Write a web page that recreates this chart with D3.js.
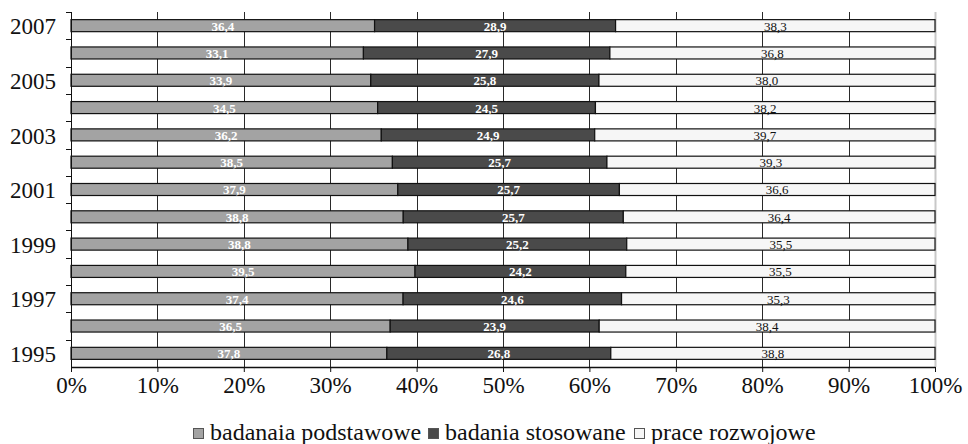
<!DOCTYPE html>
<html>
<head>
<meta charset="utf-8">
<script src="https://cdn.jsdelivr.net/npm/d3@7"></script>
<style>
  html, body { margin: 0; padding: 0; background: #fff; }
  svg { display: block; }
  svg text { font-family: "Liberation Serif", serif; }
</style>
</head>
<body>
<svg id="chart" width="968" height="444"></svg>
<script>
// Research spending structure by type of work, 1995–2007
const years = [2007, 2006, 2005, 2004, 2003, 2002, 2001, 2000, 1999, 1998, 1997, 1996, 1995];
const basic = [36.4, 33.1, 33.9, 34.5, 36.2, 38.5, 37.9, 38.8, 38.8, 39.5, 37.4, 36.5, 37.8];
const applied = [28.9, 27.9, 25.8, 24.5, 24.9, 25.7, 25.7, 25.7, 25.2, 24.2, 24.6, 23.9, 26.8];
const development = [38.3, 36.8, 38.0, 38.2, 39.7, 39.3, 36.6, 36.4, 35.5, 35.5, 35.3, 38.4, 38.8];
const seriesNames = ["badanaia podstawowe", "badania stosowane", "prace rozwojowe"];
const yearLabels = [2007, 2005, 2003, 2001, 1999, 1997, 1995];
const xTicks = [0, 0.1, 0.2, 0.3, 0.4, 0.5, 0.6, 0.7, 0.8, 0.9, 1];

const SERIF = "Liberation Serif";
const fills = ["#a3a3a3", "#4a4a4a", "#f6f6f6"];
const labelColors = ["#fff", "#fff", "#111"];

const svg = d3.select("#chart");
const margin = { left: 71, right: 33, top: 12, bottom: 77 };
const W = 968, H = 444;

const x = d3.scaleLinear().domain([0, 1]).range([margin.left, W - margin.right]);
const y = d3.scaleBand().domain(years).range([margin.top, H - margin.bottom]).paddingInner(0.56).paddingOuter(0.28);

// Stack as shares of each year's total
const rows = years.map((yr, i) => {
  const vals = [basic[i], applied[i], development[i]];
  const total = d3.sum(vals);
  let acc = 0;
  return vals.map((v, k) => {
    const seg = { year: yr, k, value: v, x0: acc / total, x1: (acc + v) / total };
    acc += v;
    return seg;
  });
});

// Right border of the plot area
svg.append("line")
  .attr("x1", x(1) + 0.5).attr("x2", x(1) + 0.5)
  .attr("y1", margin.top).attr("y2", H - margin.bottom)
  .attr("stroke", "#c8c8c8").attr("stroke-width", 2);

// Vertical gridlines
svg.append("g").selectAll("line").data(xTicks.slice(1, -1)).join("line")
  .attr("x1", d => Math.round(x(d)) + 0.5).attr("x2", d => Math.round(x(d)) + 0.5)
  .attr("y1", margin.top).attr("y2", H - margin.bottom)
  .attr("stroke", "#2a2a2a").attr("stroke-width", 1);

// Bars
const gBars = svg.append("g");
rows.forEach(row => {
  gBars.selectAll(null).data(row).join("rect")
    .attr("x", d => x(d.x0))
    .attr("y", d => y(d.year))
    .attr("width", d => x(d.x1) - x(d.x0))
    .attr("height", y.bandwidth())
    .attr("fill", d => fills[d.k])
    .attr("stroke", "#111")
    .attr("stroke-width", 1.2);
  gBars.selectAll(null).data(row).join("text")
    .attr("x", d => (x(d.x0) + x(d.x1)) / 2)
    .attr("y", d => y(d.year) + y.bandwidth() / 2)
    .attr("dy", "0.38em")
    .attr("text-anchor", "middle")
    .attr("font-family", SERIF)
    .attr("font-size", 13)
    .attr("font-weight", d => d.k < 2 ? "bold" : "normal")
    .attr("fill", d => labelColors[d.k])
    .text(d => d3.format(".1f")(d.value).replace(".", ","));
});

// Y axis with ticks at band boundaries
const step = y.step();
const yAxisG = svg.append("g");
yAxisG.append("line")
  .attr("x1", margin.left + 0.5).attr("x2", margin.left + 0.5)
  .attr("y1", margin.top).attr("y2", H - margin.bottom)
  .attr("stroke", "#111");
const boundaries = d3.range(years.length).map(i => margin.top + i * step);
yAxisG.selectAll("line.tick").data(boundaries).join("line")
  .attr("class", "tick")
  .attr("x1", margin.left - 5).attr("x2", margin.left)
  .attr("y1", d => Math.round(d) + 0.5).attr("y2", d => Math.round(d) + 0.5)
  .attr("stroke", "#111");
yAxisG.selectAll("text").data(yearLabels).join("text")
  .attr("x", margin.left - 15)
  .attr("y", d => y(d) + y.bandwidth() / 2)
  .attr("dy", "0.38em")
  .attr("text-anchor", "end")
  .attr("font-family", SERIF)
  .attr("font-size", 23)
  .attr("fill", "#111")
  .text(d => d);

// X axis
const xAxis = d3.axisBottom(x).tickValues(xTicks).tickFormat(d3.format(".0%")).tickSize(5).tickSizeOuter(0);
const xg = svg.append("g").attr("transform", `translate(0,${H - margin.bottom})`).call(xAxis);
xg.select(".domain").attr("stroke", "#111").attr("stroke-width", 1.5);
xg.selectAll(".tick line").attr("stroke", "#111");
xg.selectAll(".tick text")
  .attr("font-family", SERIF)
  .attr("font-size", 23)
  .attr("fill", "#111")
  .attr("y", 26)
  .attr("dy", 0);

// Legend
const legendItems = [
  { name: seriesNames[0], fill: fills[0], x: 193 },
  { name: seriesNames[1], fill: fills[1], x: 428 },
  { name: seriesNames[2], fill: fills[2], x: 634 }
];
const lg = svg.append("g");
legendItems.forEach(it => {
  lg.append("rect")
    .attr("x", it.x + 0.5).attr("y", 428.5).attr("width", 10).attr("height", 10)
    .attr("fill", it.fill).attr("stroke", "#555");
  lg.append("text")
    .attr("x", it.x + 17).attr("y", 440)
    .attr("font-family", SERIF)
    .attr("font-size", 24)
    .attr("fill", "#111")
    .text(it.name);
});
</script>
</body>
</html>
